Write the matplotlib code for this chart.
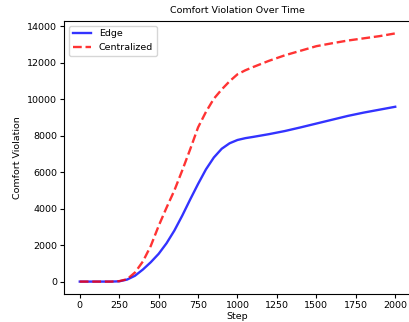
import matplotlib
matplotlib.use("Agg")
import matplotlib.pyplot as plt

# values
steps = [0, 100, 200, 250, 300, 350, 400, 450, 500, 550, 600, 650, 700, 750, 800,
         850, 900, 950, 1000, 1050, 1100, 1200, 1300, 1400, 1500, 1600, 1700, 1800,
         1900, 2000]
edge = [0, 0, 0, 15, 110, 320, 660, 1060, 1520, 2100, 2800, 3620, 4500, 5350, 6150,
        6800, 7280, 7580, 7760, 7860, 7930, 8080, 8250, 8450, 8660, 8870, 9080, 9260,
        9420, 9580]
centralized = [0, 0, 0, 25, 130, 500, 1100, 1950, 3050, 4050, 5000, 6100, 7250, 8450,
               9300, 10020, 10530, 10980, 11360, 11580, 11760, 12100, 12400, 12650,
               12900, 13060, 13210, 13330, 13450, 13600]

fs = 6.8
fig = plt.figure(figsize=(4.09, 3.22), dpi=100)
ax = fig.add_axes([64 / 409, 28 / 322, 347 / 409, 273 / 322])
ax.plot(steps, edge, color="blue", lw=1.7, alpha=0.8, label="Edge")
ax.plot(steps, centralized, color="red", ls="--", lw=1.7, alpha=0.8, label="Centralized")
ax.set_title("Comfort Violation Over Time", fontsize=fs)
ax.set_xlabel("Step", fontsize=fs, labelpad=1.5)
ax.set_ylabel("Comfort Violation", fontsize=fs)
ax.set_xticks([0, 250, 500, 750, 1000, 1250, 1500, 1750, 2000])
ax.set_yticks(range(0, 14001, 2000))
ax.tick_params(labelsize=fs, length=3, pad=2)
ax.legend(loc="upper left", fontsize=fs)
fig.savefig("out.png", dpi=100)
